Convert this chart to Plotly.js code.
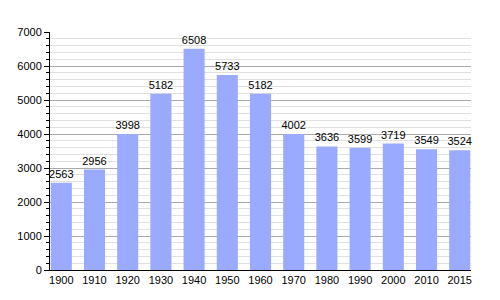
<!DOCTYPE html>
<html><head><meta charset="utf-8">
<script src="https://cdn.plot.ly/plotly-3.0.1.min.js"></script>
<style>body{margin:0}#c{width:500px;height:300px}</style>
</head><body><div id="c"></div>
<script>
const years = ["1900","1910","1920","1930","1940","1950","1960","1970","1980","1990","2000","2010","2015"];
const population = [2563,2956,3998,5182,6508,5733,5182,4002,3636,3599,3719,3549,3524];

Plotly.newPlot('c', [{
  type: 'bar',
  x: years,
  y: population,
  text: population.map(String),
  textposition: 'outside',
  constraintext: 'none',
  cliponaxis: false,
  textfont: {family: 'Liberation Sans, Arial, sans-serif', size: 11, color: '#000'},
  marker: {color: '#99aaff'},
  width: 0.635,
  hoverinfo: 'none'
}], {
  width: 500, height: 300,
  margin: {l: 50, r: 29, t: 32, b: 30},
  paper_bgcolor: '#fff', plot_bgcolor: '#fff',
  showlegend: false,
  uniformtext: {mode: false},
  font: {family: 'Liberation Sans, Arial, sans-serif', size: 11, color: '#000'},
  xaxis: {
    type: 'category',
    range: [-0.34, 12.34],
    showline: true, linecolor: '#000', linewidth: 1,
    ticks: '', showgrid: false, zeroline: false,
    tickfont: {size: 11}
  },
  yaxis: {
    range: [0, 7000],
    dtick: 1000,
    showline: true, linecolor: '#000', linewidth: 1,
    ticks: 'outside', ticklen: 5, tickcolor: '#000',
    gridcolor: '#aaaaaa', gridwidth: 1,
    zeroline: false,
    tickfont: {size: 11},
    minor: {dtick: 200, showgrid: true, gridcolor: '#e0e0e0', ticks: 'outside', ticklen: 3, tickcolor: '#000'}
  },
  bargap: 0.365
}, {displayModeBar: false, staticPlot: true});
</script></body></html>
